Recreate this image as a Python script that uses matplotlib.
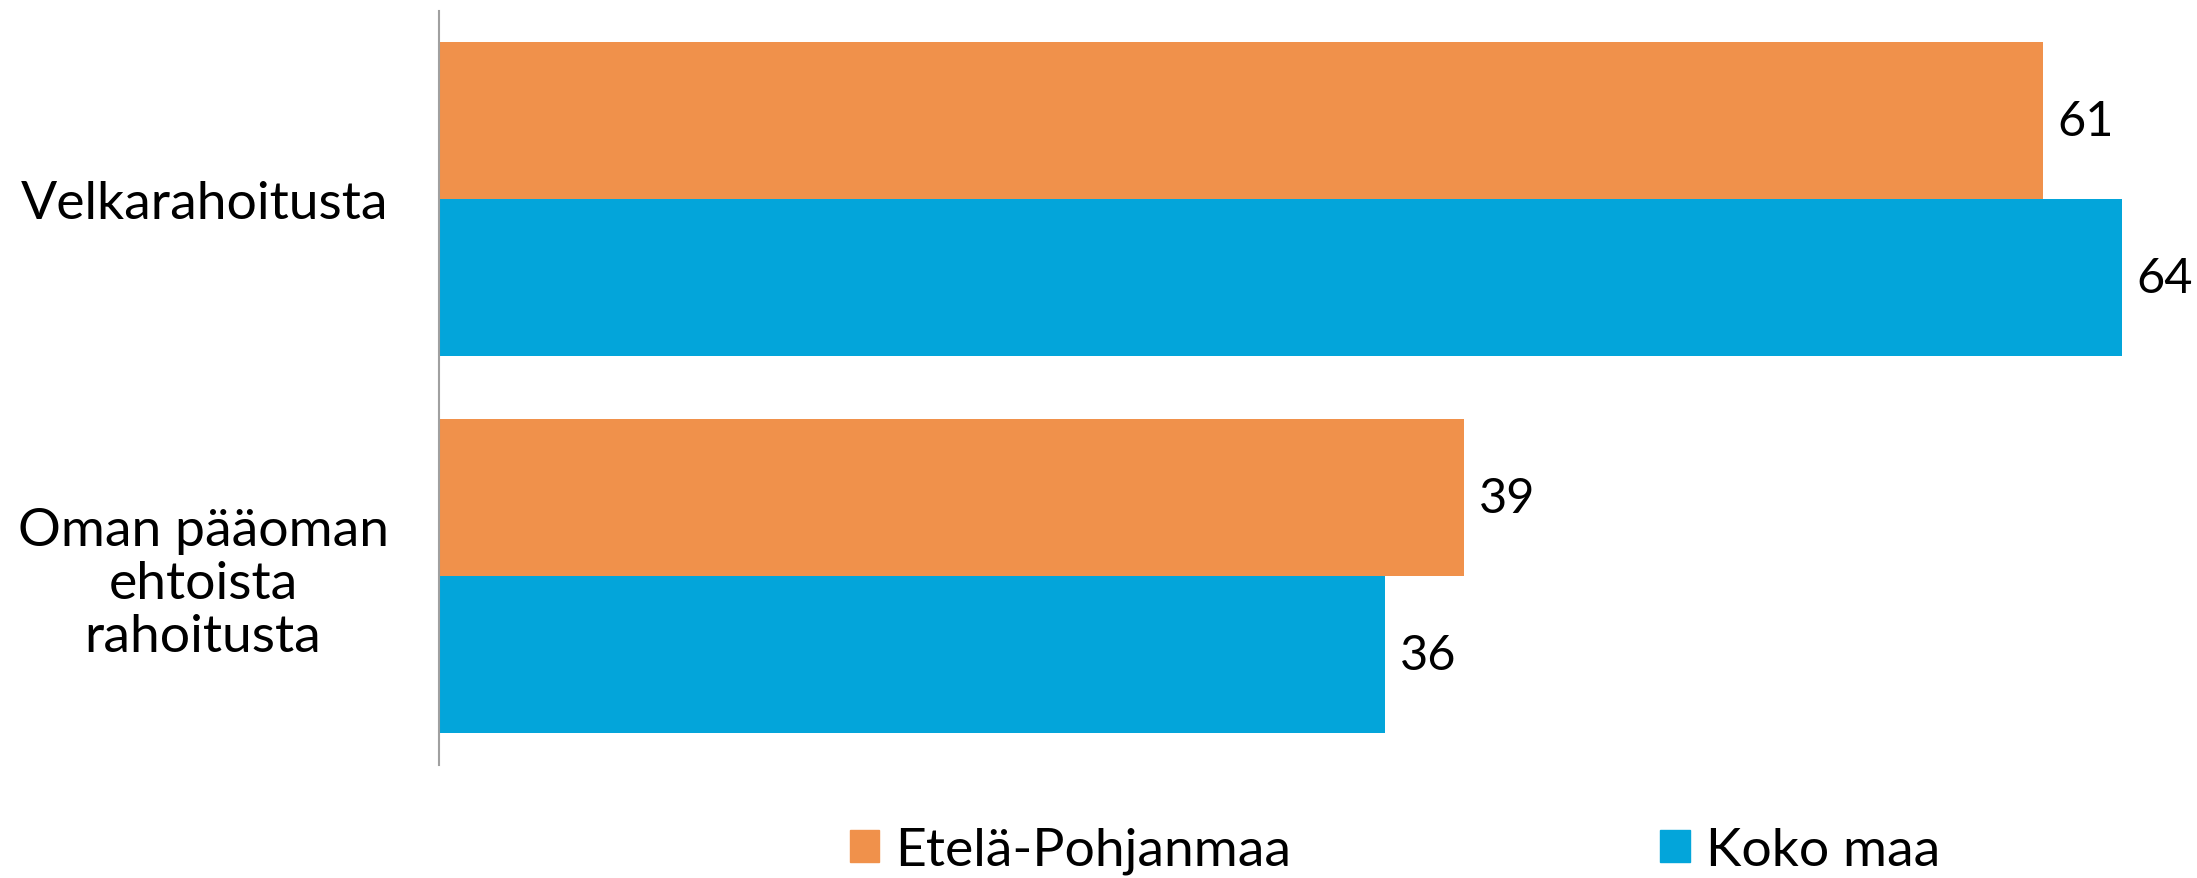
import matplotlib
matplotlib.use("Agg")
import matplotlib.pyplot as plt
import numpy as np
from matplotlib.patches import Patch

categories = ["Velkarahoitusta", "Oman pääoman\nehtoista\nrahoitusta"]
series_names = ["Etelä-Pohjanmaa", "Koko maa"]
etela_pohjanmaa = [61, 39]
koko_maa = [64, 36]
colors = ["#F0914B", "#03A5DA"]

plt.rcParams['font.family'] = ['Lato', 'DejaVu Sans']
FS = 38.5
FS_VAL = 35

fig = plt.figure(figsize=(21.97, 8.79), dpi=100)
ax = fig.add_axes([0.1996, 0.1290, 0.9898 - 0.1996, 0.9865 - 0.1290])

y = np.arange(len(categories))
h = 0.4167
b1 = ax.barh(y - h / 2, etela_pohjanmaa, height=h, color=colors[0], label=series_names[0])
b2 = ax.barh(y + h / 2, koko_maa, height=h, color=colors[1], label=series_names[1])

for bars in (b1, b2):
    lbls = ax.bar_label(bars, padding=10.5, fontsize=FS_VAL, color="black")
    for t in lbls:
        t.set_clip_on(False)

ax.set_xlim(0, 66)
ax.set_ylim(1.5, -0.5)
ax.set_yticks(y)
ax.set_yticklabels(categories, fontsize=FS, multialignment="center", linespacing=1.15)
ax.tick_params(axis="y", length=0, pad=36)
ax.set_xticks([])
for s in ["top", "right", "bottom"]:
    ax.spines[s].set_visible(False)
ax.spines["left"].set_color("#A0A0A0")
ax.spines["left"].set_linewidth(1.5)

handles = [Patch(color=colors[0]), Patch(color=colors[1])]
fig.legend(handles, series_names, loc="lower left", bbox_to_anchor=(850 / 2197, 0.004),
           ncol=2, frameon=False, fontsize=FS, handlelength=0.55, handleheight=0.55,
           handletextpad=0.3, columnspacing=6.9, borderaxespad=0, borderpad=0)

fig.savefig("out.png", dpi=100)
